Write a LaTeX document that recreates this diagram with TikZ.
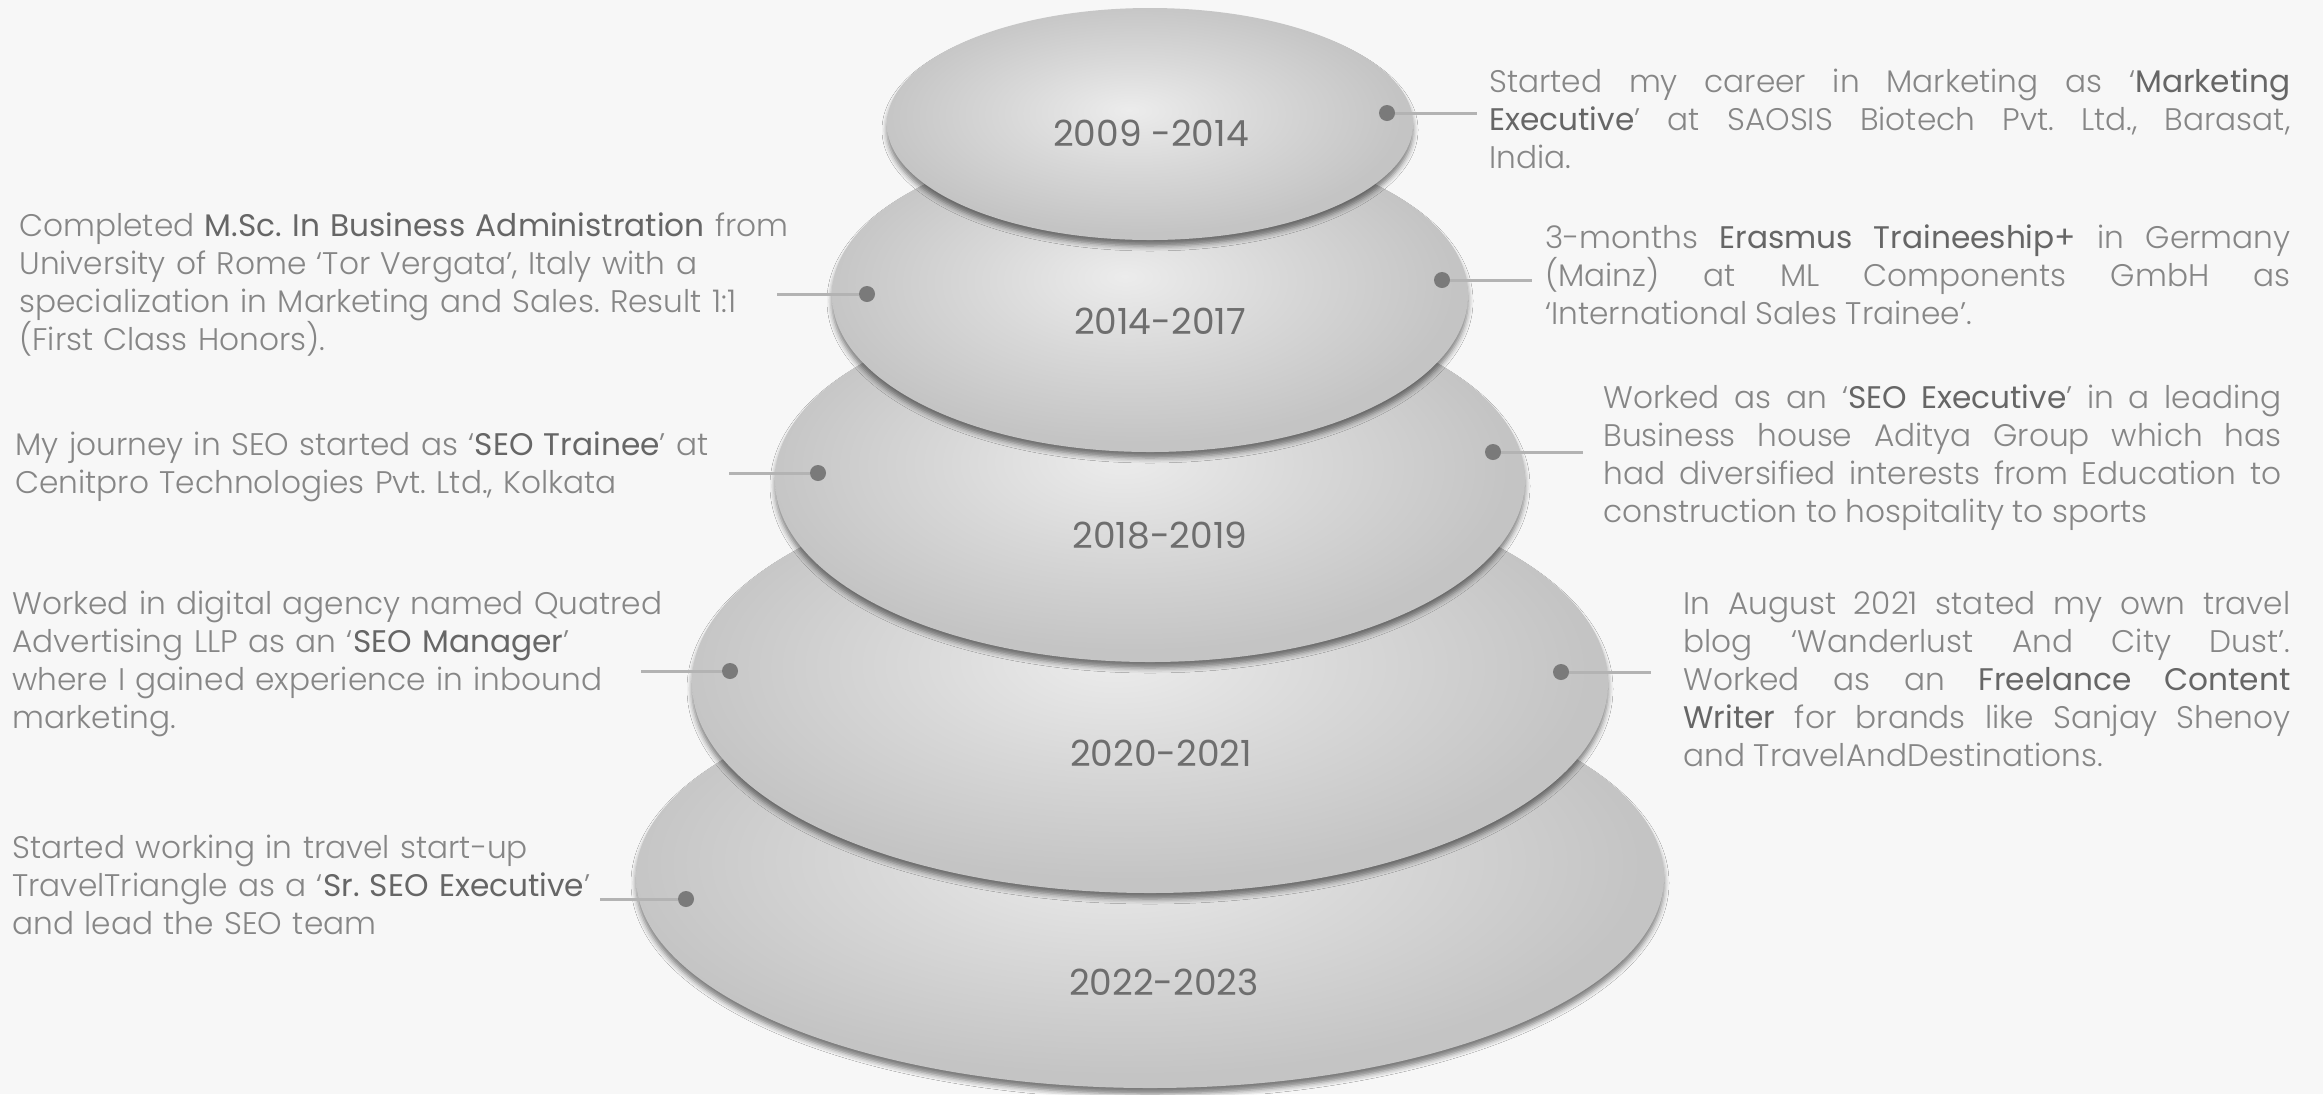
\documentclass[tikz,border=0pt]{standalone}
\usepackage{fontspec}
\setmainfont{Poppins Light}[BoldFont={Poppins}]
\usetikzlibrary{shapes.geometric, shadows.blur}
\frenchspacing

\definecolor{paper}{HTML}{F7F7F7}
\definecolor{stonehi}{HTML}{ECECEC}
\definecolor{stonemd}{HTML}{D8D8D8}
\definecolor{stonelo}{HTML}{C4C4C4}
\definecolor{txtgray}{HTML}{868686}
\definecolor{keygray}{HTML}{666666}
\definecolor{yeargray}{HTML}{6E6E6E}
\definecolor{dotgray}{HTML}{7A7A7A}
\definecolor{leadgray}{HTML}{B3B3B3}

% soft light spot, a bit above the middle of each stone
\pgfdeclareradialshading{stone}{\pgfpoint{-2bp}{3bp}}{%
  color(0bp)=(stonehi); color(12bp)=(stonemd); color(25bp)=(stonelo); color(50bp)=(stonelo)}

\newcommand\kw[1]{{\bfseries\color{keygray}#1}}

\tikzset{
  stone/.style={ellipse, shading=stone, inner sep=0pt,
    blur shadow={shadow xshift=0pt, shadow yshift=-3pt, shadow blur radius=2.5pt, shadow opacity=50}},
  year/.style={font=\bfseries\fontsize{18}{18}\selectfont, text=yeargray},
  dot/.style={circle, fill=dotgray, inner sep=0pt, minimum size=8pt},
  leader/.style={leadgray, line width=1.5pt},
  note/.style={font=\fontsize{15.6}{19}\selectfont, text=txtgray, inner sep=0pt, anchor=base west},
  lnote/.style={note, align=left, text width=440pt},
  rnote/.style={note, align=justify},
}

\begin{document}
\begin{tikzpicture}[x=0.5pt, y=-0.5pt]
\fill[paper] (0,0) rectangle (2323,1094);
\useasboundingbox (0,0) rectangle (2323,1094);

% the stack, biggest stone first
\foreach \n/\cy/\rx/\ry in {5/877/514/211, 4/683/458/210, 3/480/375/182, 2/295/318/157, 1/124/263/116}
  \node[stone, minimum width=\rx pt, minimum height=\ry pt] (s\n) at (1150,\cy) {};

\node[year] (y1) at (1151,133) {2009 -2014};
\node[year] (y2) at (1160,321) {2014-2017};
\node[year] (y3) at (1160,536) {2018-2019};
\node[year] (y4) at (1161,753) {2020-2021};
\node[year] (y5) at (1164,982) {2022-2023};

% pins and leaders
\node[dot] (d1) at (1387,113) {};
\node[dot] (d2) at (867,294) {};
\node[dot] (d3) at (1442,280) {};
\node[dot] (d4) at (818,473) {};
\node[dot] (d5) at (1493,452) {};
\node[dot] (d6) at (730,671) {};
\node[dot] (d7) at (1561,672) {};
\node[dot] (d8) at (686,899) {};
\coordinate (c1) at (1477,113);
\coordinate (c2) at (777,294);
\coordinate (c3) at (1532,280);
\coordinate (c4) at (729,473);
\coordinate (c5) at (1583,452);
\coordinate (c6) at (641,671);
\coordinate (c7) at (1651,672);
\coordinate (c8) at (600,899);
\foreach \i in {1,...,8}
  \draw[leader] (d\i) -- (c\i);

% right column
\node[rnote, text width=400.5pt] (t1) at (1489,92)
  {Started my career in Marketing as ‘\kw{Marketing}\linebreak
   \kw{Executive}’ at SAOSIS Biotech Pvt. Ltd., Barasat,\linebreak
   India.};
\node[rnote, text width=372.5pt] (t3) at (1545,248)
  {3-months \kw{Erasmus Traineeship+} in Germany\linebreak
   (Mainz) at ML Components GmbH as\linebreak
   ‘International Sales Trainee’.};
\node[rnote, text width=339pt] (t5) at (1603,408)
  {Worked as an ‘\kw{SEO Executive}’ in a leading\linebreak
   Business house Aditya Group which has\linebreak
   had diversified interests from Education to\linebreak
   construction to hospitality to sports};
\node[rnote, text width=303.5pt] (t7) at (1683,614)
  {In August 2021 stated my own travel\linebreak
   blog ‘Wanderlust And City Dust’.\linebreak
   Worked as an \kw{Freelance Content}\linebreak
   \kw{Writer} for brands like Sanjay Shenoy\linebreak
   and TravelAndDestinations.};

% left column
\node[lnote] (t2) at (19,236)
  {Completed \kw{M.Sc. In Business Administration} from\\
   University of Rome ‘Tor Vergata’, Italy with a\\
   specialization in Marketing and Sales. Result 1:1\\
   (First Class Honors).};
\node[lnote] (t4) at (15,455)
  {My journey in SEO started as ‘\kw{SEO Trainee}’ at\\
   Cenitpro Technologies Pvt. Ltd., Kolkata};
\node[lnote] (t6) at (12,614)
  {Worked in digital agency named Quatred\\
   Advertising LLP as an ‘\kw{SEO Manager}’\\
   where I gained experience in inbound\\
   marketing.};
\node[lnote] (t8) at (12,858)
  {Started working in travel start-up\\
   TravelTriangle as a ‘\kw{Sr. SEO Executive}’\\
   and lead the SEO team};
\end{tikzpicture}
\end{document}
